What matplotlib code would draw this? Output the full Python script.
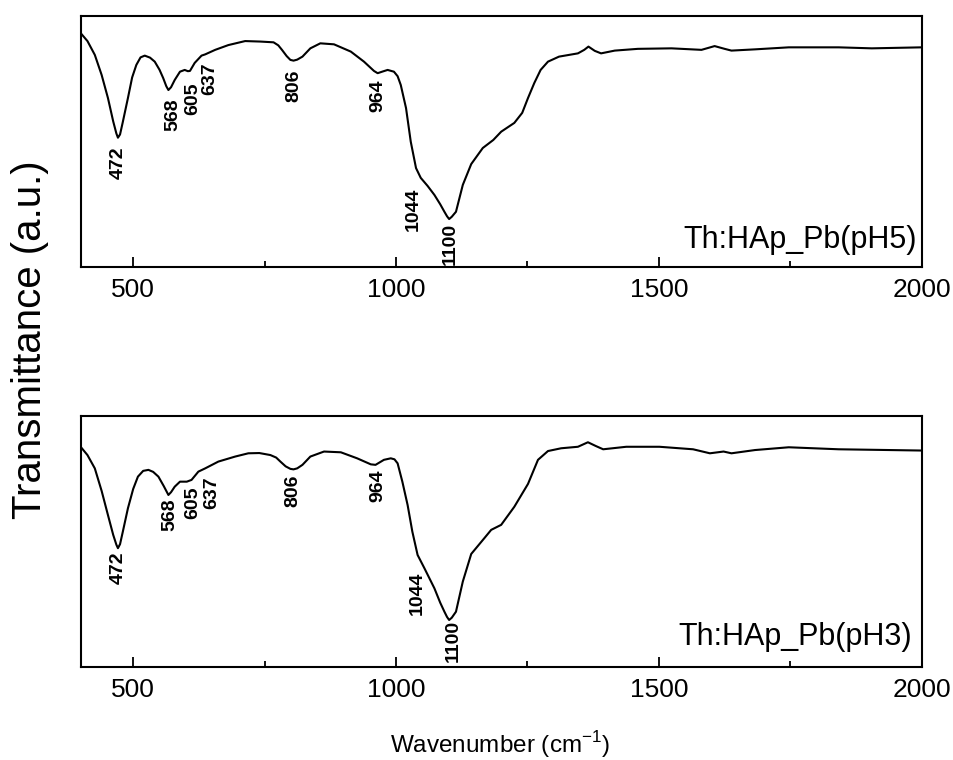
import matplotlib
matplotlib.use("Agg")
import matplotlib.pyplot as plt
from matplotlib.ticker import MultipleLocator

plt.rcParams['font.family'] = ['Liberation Sans', 'DejaVu Sans']

# FTIR spectra (transmittance in arbitrary units)
wn_ph5 = [400, 413, 427, 440, 452, 462, 468, 471, 475, 480, 490, 498, 506, 514, 522,
          532, 541, 550, 557, 563, 567, 572, 579, 589, 598, 604, 608, 617, 630, 637,
          656, 681, 713, 742, 767, 776, 783, 792, 799, 805, 812, 822, 837, 856, 882,
          914, 939, 958, 965, 975, 984, 996, 1003, 1009, 1019, 1028, 1038, 1047, 1060,
          1073, 1084, 1092, 1097, 1101, 1106, 1114, 1127, 1143, 1165, 1185, 1200, 1225,
          1240, 1251, 1263, 1275, 1289, 1310, 1346, 1358, 1366, 1378, 1390, 1416, 1460,
          1524, 1581, 1606, 1625, 1638, 1683, 1747, 1842, 1905, 2000]
t_ph5 = [93.2, 90.0, 84.5, 76.5, 67.3, 58.0, 53.2, 51.5, 52.8, 57.5, 67.3, 75.5, 80.5,
         83.5, 84.2, 83.4, 81.8, 78.6, 75.3, 72.0, 70.5, 71.6, 74.5, 77.8, 78.5, 78.0,
         78.1, 81.3, 84.2, 84.7, 86.5, 88.4, 90.0, 89.8, 89.5, 88.3, 86.5, 84.0, 82.5,
         82.2, 82.6, 83.8, 87.1, 89.1, 88.7, 85.8, 81.8, 78.1, 77.2, 77.9, 78.5, 77.8,
         76.0, 72.5, 63.3, 49.9, 39.4, 35.5, 32.3, 28.7, 25.0, 22.0, 20.2, 19.1, 20.0,
         22.0, 32.7, 41.0, 47.4, 50.6, 53.9, 57.4, 61.4, 67.3, 73.3, 78.5, 81.8, 83.8,
         85.1, 86.5, 87.8, 86.1, 85.1, 86.2, 86.9, 87.1, 86.5, 88.0, 86.9, 86.2, 86.7,
         87.5, 87.5, 87.1, 87.5]

wn_ph3 = [400, 413, 427, 440, 452, 462, 468, 471, 475, 480, 490, 500, 509, 519, 529,
          538, 548, 558, 567, 572, 579, 589, 602, 611, 624, 637, 662, 694, 719, 740,
          761, 772, 780, 790, 799, 805, 812, 822, 837, 863, 895, 926, 952, 961, 977,
          990, 997, 1003, 1012, 1022, 1031, 1041, 1054, 1073, 1084, 1092, 1097, 1101,
          1106, 1114, 1127, 1143, 1168, 1181, 1200, 1225, 1251, 1270, 1289, 1314, 1346,
          1365, 1380, 1394, 1438, 1501, 1565, 1597, 1623, 1638, 1683, 1747, 1842, 2000]
t_ph3 = [87.6, 84.3, 79.0, 70.0, 60.4, 52.5, 48.6, 47.2, 48.8, 53.5, 63.1, 70.8, 75.7,
         78.0, 78.4, 77.6, 75.7, 72.0, 68.4, 69.5, 71.7, 73.7, 73.7, 74.4, 77.7, 79.0,
         81.7, 83.7, 85.0, 85.1, 84.3, 83.3, 81.7, 79.8, 78.8, 78.6, 79.0, 80.4, 83.7,
         85.7, 85.4, 83.0, 80.6, 80.4, 82.4, 83.0, 82.6, 81.0, 73.7, 64.4, 53.8, 44.5,
         39.2, 31.2, 25.5, 21.9, 19.8, 18.6, 19.5, 21.9, 33.9, 44.9, 51.2, 54.5, 56.5,
         63.7, 72.8, 82.4, 85.9, 87.0, 87.6, 89.4, 87.9, 86.6, 87.6, 87.6, 86.6, 85.0,
         85.7, 85.0, 86.3, 87.4, 86.6, 86.1]

peak_names = ['472', '568', '605', '637', '806', '964', '1044', '1100']
sample_names = ['Th:HAp_Pb(pH5)', 'Th:HAp_Pb(pH3)']

# where each peak label hangs (x, top of text) - layout only
label_pos_ph5 = [(472, 47.8), (575, 67.3), (614, 73.3), (645, 81.7),
                 (805, 78.5), (965, 74.5), (1032, 31.5), (1104, 17.5)]
label_pos_ph3 = [(471, 45.8), (570, 67.2), (614, 71.7), (649, 75.7),
                 (803, 76.4), (965, 78.4), (1041, 37.8), (1108, 18.6)]

fig = plt.figure(figsize=(9.54, 7.6), dpi=100)
ax1 = fig.add_axes([0.0845, 0.6487, 0.8817, 0.3303])
ax2 = fig.add_axes([0.0845, 0.1228, 0.8817, 0.3303])

panels = [(ax1, wn_ph5, t_ph5, label_pos_ph5, sample_names[0], (0.994, 0.076)),
          (ax2, wn_ph3, t_ph3, label_pos_ph3, sample_names[1], (0.988, 0.086))]

for ax, wn, t, lpos, name, npos in panels:
    ax.plot(wn, t, color='black', lw=1.5)
    ax.set_xlim(400, 2000)
    ax.set_ylim(0, 100)
    ax.set_yticks([])
    ax.xaxis.set_major_locator(MultipleLocator(500))
    ax.xaxis.set_minor_locator(MultipleLocator(250))
    ax.tick_params(axis='x', which='major', direction='in', length=7, width=1.3,
                   labelsize=19, pad=8)
    ax.tick_params(axis='x', which='minor', direction='in', length=4.5, width=1.3)
    for s in ax.spines.values():
        s.set_linewidth(1.5)
    for lab, (x, y) in zip(peak_names, lpos):
        ax.text(x, y, lab, rotation=90, ha='center', va='top', fontsize=14,
                fontweight='bold')
    ax.text(npos[0], npos[1], name, transform=ax.transAxes, ha='right',
            va='baseline', fontsize=22)

fig.text(0.031, 0.553, 'Transmittance (a.u.)', rotation=90, ha='center',
         va='center', fontsize=29)
fig.text(0.524, 0.02, r'Wavenumber (cm$^{\mathregular{-1}}$)', ha='center',
         va='center', fontsize=17.5)

fig.savefig('out.png', dpi=100)
